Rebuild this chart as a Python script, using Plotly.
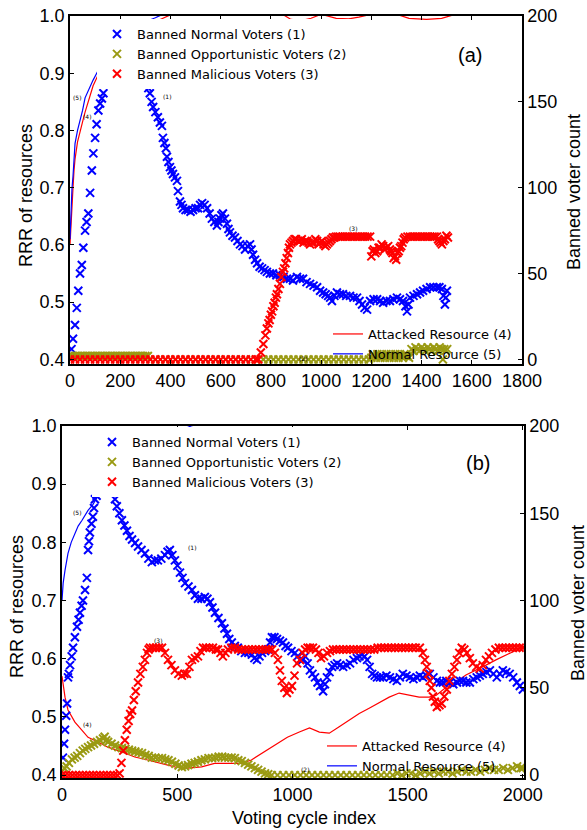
import plotly.graph_objects as go

# ---------------- panel (a) data: (cycle, count) for voters, (cycle, RRR) for resources
a_normal_voters = [(0,1),(6,6),(12,12),(20,20),(27,30),(33,40),(40,50),(47,55),(53,65),(60,75),(66,80),(73,85),(80,97),(87,110),(93,120),(100,129),(106,137),(113,145),(120,149),(127,152),(133,155),(139,161),
    (150,166),(170,172),(190,177),(210,180),(230,180),(250,177),(270,172),(290,166),
    (306,161),(312,158),(318,155),(325,150),(331,147),(340,144),(350,141),(358,138),(366,136),(370,129),(376,126),(382,123),(386,118),(392,115),(398,112),(404,110),(410,108),(418,106),(426,104),(430,98),(438,92),(444,90),(450,88),(460,87),(470,87),(480,86),(490,87),(500,88),(510,88),(518,90),(526,91),(536,90),(546,88),(556,85),(565,82),(575,80),(585,78),(591,80),(597,82),(603,84),(609,85),(617,82),(625,79),(631,76),(637,74),(647,72),(657,71),(667,69),(677,67),(687,66),(697,64),(707,66),(717,67),(723,64),(729,61),(737,58),(745,56),(755,54),(765,53),(775,52),(784,51),(796,50),(808,50),(822,49),(836,49),(850,48),(864,47),(876,47),(888,46),(904,48),(916,47),(928,47),(942,45),(956,44),(970,43),(984,42),(996,40),(1008,39),(1018,38),(1028,37),(1036,36),(1043,34),(1053,37),(1063,39),(1075,38),(1087,38),(1100,37),(1115,37),(1129,36),(1143,36),(1153,34),(1163,32),(1173,30),(1183,29),(1195,34),(1209,35),(1223,35),(1235,34),(1247,33),(1260,34),(1274,34),(1288,35),(1302,36),(1314,35),(1326,34),(1336,31),(1342,28),(1348,32),(1354,36),(1368,37),(1382,38),(1394,39),(1406,40),(1420,41),(1434,42),(1447,42),(1461,42),(1471,42),(1481,41),(1487,37),(1493,32),(1497,36),(1501,40)]

a_opp_voters = [(0,2),(10,2),(20,2),(30,2),(40,2),(50,2),(60,2),(70,2),(80,2),(90,2),(100,2),(110,2),(120,2),(130,2),(140,2),(150,2),(160,2),(170,2),(180,2),(190,2),(200,2),(210,2),(220,2),(230,2),(240,2),(250,2),(260,2),(270,2),(280,2),(290,2),(300,2),(310,2),
    (340,0),(380,0),(420,0),(460,0),(500,0),(540,0),(580,0),(620,0),(660,0),(700,0),(740,0),(770,0),(790,0),(810,0),(830,0),(850,0),(870,0),(890,0),(910,0),(930,0),(950,0),(970,0),(990,0),(1010,0),(1030,0),(1050,0),(1070,0),(1090,0),(1110,0),(1130,0),(1150,0),(1170,0),(1190,0),
    (1200,1),(1206,3),(1212,2),(1218,1),(1224,3),(1230,2),(1236,1),(1242,3),(1248,2),(1254,1),(1260,3),(1266,2),(1272,1),(1278,3),(1284,2),(1290,1),(1296,3),(1302,2),(1308,1),(1314,3),(1320,2),(1326,1),(1332,3),(1338,2),(1344,2),(1350,1),
    (1360,6),(1368,5),(1376,7),(1384,6),(1392,5),(1400,7),(1408,6),(1416,5),(1424,7),(1432,6),(1440,5),(1448,7),(1456,6),(1464,5),(1472,7),(1480,6),(1485,0),(1490,6),(1496,5),(1502,6)]

a_mal_voters = [(0,0),(20,0),(40,0),(60,0),(80,0),(100,0),(120,0),(140,0),(160,0),(180,0),(200,0),(220,0),(240,0),(260,0),(280,0),(300,0),(320,0),(340,0),(360,0),(380,0),(400,0),(420,0),(440,0),(460,0),(480,0),(500,0),(520,0),(540,0),(560,0),(580,0),(600,0),(620,0),(640,0),(660,0),(680,0),(700,0),(720,0),(740,0),(750,0),
    (760,4),(770,9),(778,14),(784,18),(790,21),(795,23),(800,26),(805,28),(810,31),(815,33),(820,36),(824,38),(830,41),(836,44),(842,48),(848,51),(853,53),(858,56),(863,59),(868,62),(872,65),(876,67),(882,68),(888,69),(894,70),(900,70),(908,69),(916,69),(923,70),(930,68),(937,69),(944,69),(950,68),(956,67),(963,68),(970,68),(977,70),(984,69),(990,67),(996,68),(1003,69),(1010,67),(1017,66),(1023,67),(1029,68),(1035,69),(1041,70),(1047,71),(1053,71),(1060,71.5),(1068,71.5),(1075,71.5),(1085,71.5),(1095,71.5),(1105,71.5),(1115,71.5),(1125,71.5),(1135,71.5),(1145,71.5),(1155,71.5),(1165,71.5),(1175,71.5),(1185,71.5),(1195,71.5),
    (1200,60),(1205,63),(1210,64),(1216,62),(1223,63),(1229,65),(1235,65),(1241,67),(1247,66),(1253,64),(1260,65),(1267,66),(1274,64),(1279,63),(1284,62),(1289,59),(1294,60),(1299,58),(1304,62),(1309,63),(1314,65),(1319,66),(1324,68),(1329,70),(1334,71),(1344,71.5),(1354,71.5),(1364,71.5),(1374,71.5),(1384,71.5),(1394,71.5),(1404,71.5),(1414,71.5),(1424,71.5),(1434,71.5),(1444,71.5),(1452,71.5),(1461,71.5),(1466,70),(1471,69),(1476,68),(1481,67),(1487,69),(1493,70),(1499,72),(1505,71)]

a_attacked_res = [(0,0.60),(4,0.64),(8,0.67),(12,0.70),(16,0.73),(20,0.75),(30,0.78),(40,0.80),(50,0.815),(60,0.832),(75,0.855),(92,0.878),(110,0.895),(130,0.91),(160,0.93),(200,0.95),(250,0.968),(300,0.982),(350,0.992),(390,1.0),(410,1.004),(450,1.008),(600,1.01),(800,1.006),(850,1.002),(880,0.994),(920,0.992),(960,0.996),(1000,1.003),(1060,0.996),(1110,0.995),(1150,0.998),(1200,1.003),(1300,1.003),(1350,0.996),(1420,0.994),(1480,0.996),(1520,1.001)]
a_normal_res = [(0,0.61),(4,0.66),(8,0.70),(12,0.72),(16,0.75),(20,0.777),(30,0.80),(40,0.817),(50,0.835),(60,0.857),(75,0.873),(92,0.888),(110,0.903),(130,0.918),(160,0.937),(200,0.958),(250,0.978),(300,0.99),(340,0.997),(360,1.001),(380,1.005),(420,1.01),(500,1.015),(700,1.02),(1100,1.02),(1520,1.02)]

# ---------------- panel (b) data
b_normal_voters = [(4,10),(9,18),(13,26),(18,34),(22,41),(26,56),(30,58),(35,63),(42,68),(48,73),(56,79),(65,85),(72,89),(78,93),(85,97),(91,100),(100,106),(108,113),(113,129),(117,134),(121,139),(128,144),(134,148),(139,153),(143,158),(150,160),(156,162),
    (165,168),(180,175),(195,176),(210,170),
    (221,162),(230,158),(238,154),(249,150),(260,146),(271,143),(282,140),(293,137),(304,135),(317,133),(330,131),(345,129),(360,127),(375,124),(390,122),(403,123),(416,123),(431,124),(447,126),(458,128),(468,129),(479,126),(490,123),(501,120),(512,116),(523,113),(534,110),(549,108),(564,106),(577,103),(590,101),(605,101),(620,102),(631,101),(642,99),(653,96),(664,93),(679,90),(694,87),(705,84),(716,81),(726,78),(737,76),(750,74),(763,73),(778,71),(794,70),(809,70),(824,69),(835,67),(846,66),(857,68),(868,70),(881,71),(894,72),(903,76),(911,79),(922,79),(933,78),(946,77),(959,76),(970,74),(981,73),(996,71),(1011,70),(1022,68),(1033,66),(1044,66),(1055,68),(1066,64),(1076,60),(1087,58),(1098,56),(1109,53),(1120,51),(1133,48),(1141,52),(1150,56),(1161,59),(1172,62),(1183,63),(1194,64),(1207,63),(1220,62),(1235,63),(1250,64),(1265,66),(1280,67),(1291,68),(1302,69),(1313,68),(1324,66),(1335,62),(1346,58),(1357,57),(1367,56),(1380,56),(1393,56),(1408,57),(1423,56),(1438,55),(1453,54),(1466,56),(1479,58),(1495,57),(1510,56),(1525,55),(1540,56),(1553,57),(1566,56),(1581,57),(1596,58),(1612,56),(1627,54),(1640,53),(1653,53),(1668,54),(1683,53),(1698,52),(1714,53),(1727,54),(1740,54),(1755,53),(1770,53),(1785,55),(1800,56),(1813,57),(1826,58),(1842,59),(1857,60),(1872,58),(1887,56),(1900,58),(1913,60),(1928,59),(1943,58),(1958,56),(1974,53),(1987,51),(2000,49)]

b_opp_voters = [(0,2),(10,4),(20,5),(30,7),(43,9),(55,10),(66,11),(78,12.6),(90,14),(101,15),(113,16),(126,17),(139,18),(152,19),(165,20),(178,21),(185,22),(192,20),(200,19),(215,18),(230,17),(245,16),(260,15.5),(275,15),(290,14.5),(304,14),(318,13.5),(333,13),(347,12.6),(362,11.5),(376,11),(390,10),(405,10),(420,9.7),(434,9.7),(448,9),(462,8.5),(477,7.6),(492,6.5),(506,5.5),(520,4.6),(534,5),(547,5.7),(562,6.5),(576,7),(590,7.6),(605,8.5),(620,9),(636,9.7),(651,9.7),(665,10),(680,10.5),(695,10.5),(707,10),(722,10),(736,10),(750,9.7),(765,8.5),(780,8),(794,7),(808,6),(822,5),(837,4),(851,3),(866,2),(881,1),(895,0.5),(910,0),
    (935,0),(960,0),(985,0),(1010,0),(1035,0),(1060,0),(1085,0),(1110,0),(1135,0),(1160,0),(1185,0),(1210,0),(1235,0),(1260,0),(1285,0),(1310,0),(1335,0),(1360,0),(1385,0),(1410,0),(1435,0),(1455,1),(1475,0),(1495,1),(1515,1),(1535,0),(1555,1),(1575,2),(1595,1),(1615,2),(1635,1),(1655,2),(1675,2),(1695,1),(1715,2),(1735,3),(1755,2),(1775,2),(1795,3),(1815,2),(1835,3),(1855,4),(1875,3),(1895,3),(1915,4),(1935,3),(1955,4),(1975,5),(1990,4),(2000,4)]

b_mal_voters = [(0,0),(15,0),(30,0),(45,0),(60,0),(75,0),(90,0),(105,0),(120,0),(135,0),(150,0),(165,0),(180,0),(195,0),(210,0),(225,0),(240,0),(250,1),(258,7),(266,14),(273,20),(281,26),(289,31),(296,35),(304,37),(312,43),(320,48),(330,53),(340,58),(351,62),(360,66),(369,70),(376,72),(382,73),(395,73),(408,73),(421,73),(434,73),(447,70),(460,66),(475,63),(490,60),(505,58),(520,57),(531,58),(542,58),(553,62),(564,66),(577,67),(590,68),(601,71),(612,73),(625,73),(640,73),(655,73),(668,72),(677,72),(688,70),(698,68),(709,70),(720,72),(735,73),(750,73),(765,72),(780,72),(795,72),(810,72),(825,72),(840,72),(855,72),(870,72),(885,72),(898,72),(911,72),(924,70),(937,66),(946,60),(954,54),(965,50),(976,47),(987,49),(998,51),(1009,57),(1020,64),(1033,66),(1044,70),(1055,72),(1066,73),(1076,73),(1089,73),(1102,72),(1113,70),(1124,67),(1137,68),(1150,70),(1163,71),(1176,72),(1190,72),(1205,72),(1220,72),(1235,72),(1250,72),(1265,72),(1280,72),(1295,72),(1310,72),(1325,72),(1340,72),(1355,72),(1370,73),(1385,73),(1400,73),(1415,73),(1430,73),(1445,73),(1460,73),(1475,73),(1490,73),(1505,73),(1520,73),(1535,73),(1553,73),(1566,70),(1575,66),(1583,62),(1590,58),(1596,54),(1603,50),(1610,45),(1618,42),(1627,39),(1638,40),(1648,41),(1659,45),(1670,49),(1681,54),(1692,58),(1703,62),(1714,66),(1724,70),(1735,73),(1746,72),(1757,70),(1770,67),(1783,64),(1798,62),(1813,61),(1826,63),(1840,66),(1853,68),(1866,70),(1881,72),(1896,73),(1911,73),(1926,73),(1941,73),(1956,73),(1971,73),(1986,73),(2000,73)]

b_attacked_res = [(0,0.57),(13,0.534),(26,0.512),(56,0.491),(87,0.477),(113,0.465),(156,0.457),(199,0.448),(260,0.44),(316,0.431),(372,0.426),(433,0.42),(489,0.414),(545,0.412),(606,0.414),(662,0.42),(719,0.42),(779,0.42),(822,0.426),(866,0.437),(922,0.452),(978,0.465),(1030,0.474),(1074,0.481),(1117,0.474),(1160,0.472),(1203,0.483),(1247,0.494),(1290,0.506),(1333,0.515),(1377,0.525),(1420,0.534),(1463,0.541),(1506,0.537),(1550,0.534),(1593,0.534),(1623,0.537),(1667,0.551),(1710,0.56),(1753,0.572),(1797,0.58),(1840,0.589),(1883,0.598),(1927,0.606),(1970,0.615),(2000,0.62)]
b_normal_res = [(0,0.70),(5,0.73),(13,0.752),(26,0.781),(40,0.80),(56,0.816),(70,0.828),(87,0.838),(113,0.855),(134,0.865),(156,0.88),(200,0.90),(260,0.925),(320,0.945),(380,0.963),(440,0.978),(500,0.99),(560,1.0),(600,1.005),(700,1.01),(900,1.02),(1200,1.02),(1600,1.02),(2000,1.02)]

names = ["Banned Normal Voters (1)", "Banned Opportunistic Voters (2)", "Banned Malicious Voters (3)",
         "Attacked Resource (4)", "Normal Resource (5)"]
x_ticks_a = [0, 200, 400, 600, 800, 1000, 1200, 1400, 1600, 1800]
x_ticks_b = [0, 500, 1000, 1500, 2000]
rrr_ticks = [0.4, 0.5, 0.6, 0.7, 0.8, 0.9, 1.0]
count_ticks = [0, 50, 100, 150, 200]

BLUE, OLIVE, RED = "#0000ff", "#9a9a12", "#ff0000"
TICKFONT = dict(family="Liberation Sans, Arial", size=18, color="black")

def xs(p): return [a for a, b in p]
def ys(p): return [b for a, b in p]

fig = go.Figure()

def add_panel(xa, ya, ya2, nv, ov, mv, ar, nr, lg_m, lg_l):
    for data, col, nm in [(ar, RED, names[3]), (nr, BLUE, names[4])]:
        fig.add_trace(go.Scatter(x=xs(data), y=ys(data), mode="lines", name=nm,
                                 line=dict(color=col, width=1.2), xaxis=xa, yaxis=ya, legend=lg_l))
    for data, col, nm in [(nv, BLUE, names[0]), (ov, OLIVE, names[1]), (mv, RED, names[2])]:
        fig.add_trace(go.Scatter(x=xs(data), y=ys(data), mode="markers", name=nm,
                                 marker=dict(symbol="x-thin", size=8, color=col,
                                             line=dict(color=col, width=2)),
                                 xaxis=xa, yaxis=ya2, legend=lg_m))

add_panel("x", "y", "y2", a_normal_voters, a_opp_voters, a_mal_voters, a_attacked_res, a_normal_res, "legend", "legend2")
add_panel("x2", "y3", "y4", b_normal_voters, b_opp_voters, b_mal_voters, b_attacked_res, b_normal_res, "legend3", "legend4")

L, R, T, B = 60, 63, 16, 52
W, H = 587, 830
PW, PH = W - L - R, H - T - B
def px(x): return (x - L) / PW
def py(y): return (H - B - y) / PH

axis_common = dict(showline=True, linecolor="black", linewidth=1.5, ticks="inside", ticklen=4,
                   tickcolor="black", showgrid=False, zeroline=False, tickfont=TICKFONT)

a_lo = 0.392
b_lo = 0.395
fig.update_layout(
    width=W, height=H, margin=dict(l=L, r=R, t=T, b=B, autoexpand=False),
    plot_bgcolor="white", paper_bgcolor="white",
    xaxis=dict(domain=[px(70), px(522)], range=[0, 1800], tickvals=x_ticks_a, anchor="y", mirror="ticks", **axis_common),
    yaxis=dict(domain=[py(364), py(16)], range=[a_lo, 1.0], tickvals=rrr_ticks, tickformat=".1f", anchor="x", **axis_common),
    yaxis2=dict(range=[(a_lo - 0.4) / 0.6 * 200, 200], tickvals=count_ticks, overlaying="y", side="right", anchor="x", **axis_common),
    xaxis2=dict(domain=[px(62), px(524)], range=[0, 2005], tickvals=x_ticks_b, anchor="y3", mirror="ticks", **axis_common),
    yaxis3=dict(domain=[0, py(426)], range=[b_lo, 1.0], tickvals=rrr_ticks, tickformat=".1f", anchor="x2", **axis_common),
    yaxis4=dict(range=[(b_lo - 0.4) / 0.6 * 200, 200], tickvals=count_ticks, overlaying="y3", side="right", anchor="x2", **axis_common),
    showlegend=True,
)

LEGFONT = dict(family="DejaVu Sans", size=13, color="black")
fig.update_layout(
    legend=dict(x=px(97), y=py(19), xanchor="left", yanchor="top", bgcolor="white", borderwidth=0, font=LEGFONT, tracegroupgap=0),
    legend2=dict(x=px(328), y=py(319), xanchor="left", yanchor="top", bgcolor="rgba(0,0,0,0)", borderwidth=0, font=LEGFONT),
    legend3=dict(x=px(92), y=py(427), xanchor="left", yanchor="top", bgcolor="white", borderwidth=0, font=LEGFONT),
    legend4=dict(x=px(322), y=py(731), xanchor="left", yanchor="top", bgcolor="rgba(0,0,0,0)", borderwidth=0, font=LEGFONT),
)

ann = []
TITLEFONT = dict(family="Liberation Sans, Arial", size=18, color="black")
def add_text(x, y, text, font, angle=0):
    ann.append(dict(x=px(x), y=py(y), xref="paper", yref="paper", text=text, showarrow=False,
                    font=font, textangle=angle, xanchor="center", yanchor="middle"))

add_text(26, 196, "RRR of resources", TITLEFONT, -90)
add_text(574, 192, "Banned voter count", TITLEFONT, -90)
add_text(17, 607, "RRR of resources", TITLEFONT, -90)
add_text(578, 603, "Banned voter count", TITLEFONT, -90)
add_text(304, 818, "Voting cycle index", TITLEFONT)
add_text(470, 55, "(a)", dict(family="Liberation Sans, Arial", size=20, color="black"))
add_text(478, 463, "(b)", dict(family="Liberation Sans, Arial", size=20, color="black"))
SMALL = dict(family="DejaVu Sans", size=6, color="black")
for x, y, t in [(77, 97, "(5)"), (87, 117, "(4)"), (167, 96, "(1)"), (353, 228, "(3)"), (303, 358, "(2)"),
                (77, 512, "(5)"), (87, 724, "(4)"), (192, 547, "(1)"), (158, 640, "(3)"), (305, 769, "(2)")]:
    add_text(x, y, t, SMALL)
fig.update_layout(annotations=ann)

# the page body has a default 8px margin; remove it so the figure sits at the window's corner
fig.write_html("out.html", config={"displayModeBar": False},
               post_script="document.body.style.margin='0';")
